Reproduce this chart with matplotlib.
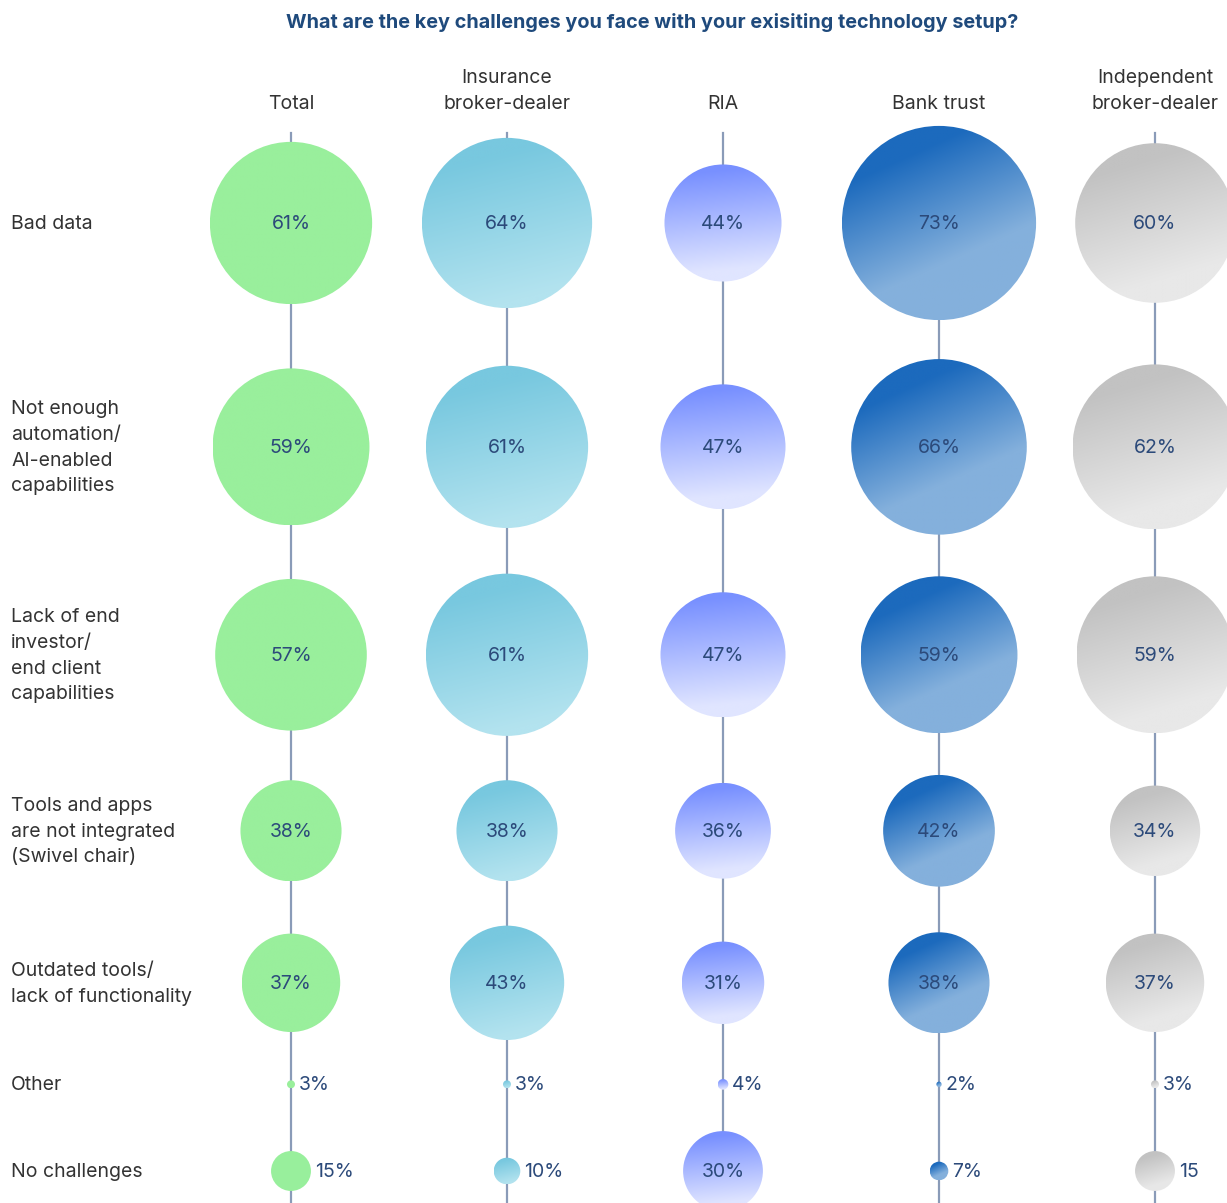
import matplotlib.pyplot as plt
import numpy as np
from matplotlib.patches import Circle, Rectangle
from matplotlib.colors import to_rgb

plt.rcParams['font.family'] = ['Inter', 'DejaVu Sans']

title = 'What are the key challenges you face with your exisiting technology setup?'

segments = ['Total', 'Insurance\nbroker-dealer', 'RIA', 'Bank trust',
            'Independent\nbroker-dealer']
challenges = ['Bad data',
              'Not enough\nautomation/\nAI-enabled\ncapabilities',
              'Lack of end\ninvestor/\nend client\ncapabilities',
              'Tools and apps\nare not integrated\n(Swivel chair)',
              'Outdated tools/\nlack of functionality',
              'Other',
              'No challenges']

total = [61, 59, 57, 38, 37, 3, 15]
insurance_bd = [64, 61, 61, 38, 43, 3, 10]
ria = [44, 47, 47, 36, 31, 4, 30]
bank_trust = [73, 66, 59, 42, 38, 2, 7]
independent_bd = [60, 62, 59, 34, 37, 3, 15]

# gradient fills per segment: start colour, end colour, direction, ramp (start, length)
fills = [('#99ef9c', '#99ef9c', (0.0, 1.0), (0.0, 1.0)),
         ('#78c8df', '#b3e3ef', (0.25, 1.0), (0.1, 0.85)),
         ('#7890ff', '#e0e5ff', (0.1, 1.0), (0.05, 0.85)),
         ('#1c6abd', '#84b0dc', (0.45, 1.0), (0.12, 0.58)),
         ('#c2c2c2', '#e8e8e8', (0.3, 1.0), (0.1, 0.75))]

W, H = 1227, 1203
px_per_pct = 1.33          # bubble radius in px per percent
col_x = [291 + 216 * i for i in range(5)]
row_gap = 39
text_col = '#2c4a7a'
label_col = '#333333'
line_col = '#8a9bb8'

series = [total, insurance_bd, ria, bank_trust, independent_bd]

# stack the rows so neighbouring bubbles keep the same gap
max_r = [max(s[i] for s in series) * px_per_pct for i in range(len(challenges))]
row_y = [223]
for i in range(1, len(challenges)):
    row_y.append(row_y[-1] + max_r[i - 1] + row_gap + max_r[i])
row_y[-1] = 1171

fig = plt.figure(figsize=(W / 100, H / 100), dpi=100)
ax = fig.add_axes([0, 0, 1, 1])
ax.set_xlim(0, W)
ax.set_ylim(H, 0)
ax.axis('off')


def gradient_bubble(cx, cy, r, c0, c1, direction, ramp):
    n = 200
    xs = np.linspace(-1, 1, n)
    gx, gy = np.meshgrid(xs, xs)
    d = np.array(direction) / np.hypot(*direction)
    t = (gx * d[0] + gy * d[1] + 1) / 2
    t = np.clip((t - ramp[0]) / ramp[1], 0, 1)
    a, b = np.array(to_rgb(c0)), np.array(to_rgb(c1))
    img = a + t[..., None] * (b - a)
    circ = Circle((cx, cy), r, transform=ax.transData, facecolor='none',
                  edgecolor='none')
    ax.add_patch(circ)
    im = ax.imshow(img, extent=(cx - r, cx + r, cy + r, cy - r), origin='upper',
                   interpolation='bilinear', zorder=3)
    im.set_clip_path(circ)


ax.text(652, 22, title, ha='center', va='center', fontsize=14.3,
        fontweight='bold', color='#1f4a7c')

clip_rect = Rectangle((0, 0), 1198, H, transform=ax.transData)

for j, (name, vals, (c0, c1, dvec, ramp)) in enumerate(zip(segments, series, fills)):
    x = col_x[j]
    ax.text(x, 113, name, ha='center', va='bottom', fontsize=14,
            color=label_col, linespacing=1.55)
    ax.plot([x, x], [133, H], color=line_col, lw=1.6, zorder=1)
    for i, v in enumerate(vals):
        r = v * px_per_pct
        y = row_y[i]
        gradient_bubble(x, y, r, c0, c1, dvec, ramp)
        if v >= 20:
            ax.text(x, y + 1, f'{v}%', ha='center', va='center', fontsize=14,
                    color=text_col, zorder=5)
        else:
            t = ax.text(x + r + 4, y + 1, f'{v}%', ha='left', va='center',
                        fontsize=14, color=text_col, zorder=5)
            t.set_clip_on(True)
            t.set_clip_path(clip_rect)

for i, lab in enumerate(challenges):
    ax.text(11, row_y[i] + 1, lab, ha='left', va='center', fontsize=14,
            color=label_col, linespacing=1.55)

fig.savefig('out.png', dpi=100)
